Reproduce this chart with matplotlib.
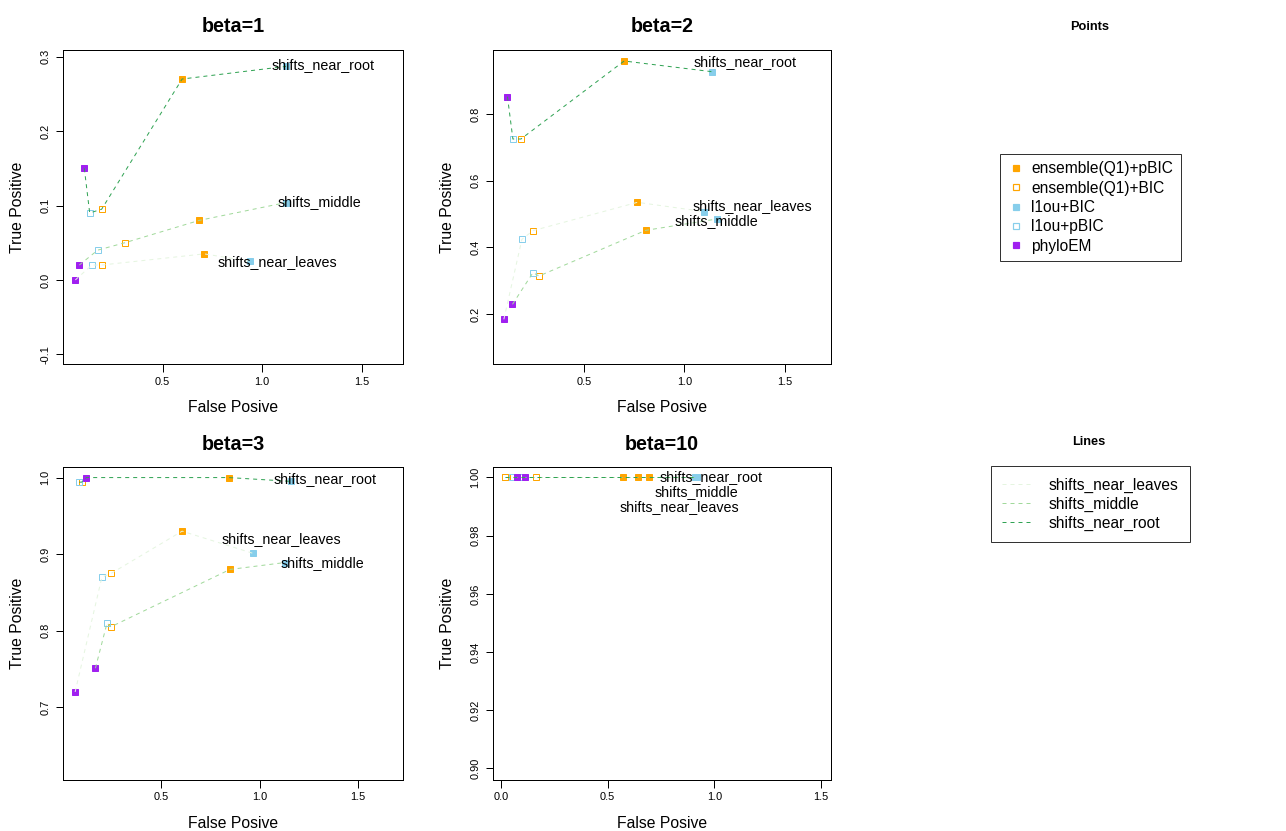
import matplotlib
matplotlib.use("Agg")
import matplotlib.pyplot as plt
from matplotlib.lines import Line2D

plt.rcParams['font.family'] = ['Liberation Sans', 'DejaVu Sans']

W, H = 1286, 831

methods = ["ensemble(Q1)+pBIC", "ensemble(Q1)+BIC", "l1ou+BIC", "l1ou+pBIC", "phyloEM"]
scenarios = ["shifts_near_leaves", "shifts_middle", "shifts_near_root"]
betas = ["beta=1", "beta=2", "beta=3", "beta=10"]

# false / true positive rates, in the order of `methods`
fp_b1_leaves = [0.709, 0.194, 0.938, 0.145, 0.062]
tp_b1_leaves = [0.035, 0.020, 0.025, 0.020, 0.000]
fp_b1_middle = [0.684, 0.311, 1.120, 0.174, 0.082]
tp_b1_middle = [0.080, 0.050, 0.104, 0.040, 0.020]
fp_b1_root = [0.598, 0.194, 1.120, 0.134, 0.107]
tp_b1_root = [0.270, 0.095, 0.287, 0.090, 0.150]

fp_b2_leaves = [0.766, 0.246, 1.100, 0.191, 0.101]
tp_b2_leaves = [0.535, 0.450, 0.507, 0.424, 0.184]
fp_b2_middle = [0.808, 0.276, 1.161, 0.246, 0.144]
tp_b2_middle = [0.451, 0.314, 0.485, 0.324, 0.229]
fp_b2_root = [0.700, 0.186, 1.136, 0.146, 0.119]
tp_b2_root = [0.959, 0.725, 0.927, 0.725, 0.852]

fp_b3_leaves = [0.607, 0.248, 0.967, 0.200, 0.064]
tp_b3_leaves = [0.930, 0.875, 0.901, 0.870, 0.720]
fp_b3_middle = [0.850, 0.245, 1.128, 0.226, 0.167]
tp_b3_middle = [0.880, 0.805, 0.889, 0.810, 0.751]
fp_b3_root = [0.844, 0.097, 1.162, 0.084, 0.121]
tp_b3_root = [1.000, 0.994, 0.995, 0.994, 1.000]

fp_b10_leaves = [0.695, 0.059, 0.920, 0.019, 0.075]
tp_b10_leaves = [1.0, 1.0, 1.0, 1.0, 1.0]
fp_b10_middle = [0.641, 0.165, 0.910, 0.100, 0.114]
tp_b10_middle = [1.0, 1.0, 1.0, 1.0, 1.0]
fp_b10_root = [0.571, 0.019, 0.914, 0.050, 0.075]
tp_b10_root = [1.0, 1.0, 1.0, 1.0, 1.0]

panels = [
    [(fp_b1_leaves, tp_b1_leaves), (fp_b1_middle, tp_b1_middle), (fp_b1_root, tp_b1_root)],
    [(fp_b2_leaves, tp_b2_leaves), (fp_b2_middle, tp_b2_middle), (fp_b2_root, tp_b2_root)],
    [(fp_b3_leaves, tp_b3_leaves), (fp_b3_middle, tp_b3_middle), (fp_b3_root, tp_b3_root)],
    [(fp_b10_leaves, tp_b10_leaves), (fp_b10_middle, tp_b10_middle), (fp_b10_root, tp_b10_root)],
]

# styles
point_color = ["#FFA500", "#FFA500", "#87CEEB", "#87CEEB", "#A020F0"]
point_filled = [True, False, True, False, True]
line_color = ["#E5F5E0", "#A1D99B", "#31A354"]
dash = (0, (4, 4))

# where the scenario names are written in each panel (data coords)
label_pos = [
    [(1.075, 0.0245), (1.289, 0.105), (1.307, 0.289)],
    [(1.339, 0.524), (1.161, 0.479), (1.300, 0.955)],
    [(1.109, 0.9196), (1.317, 0.889), (1.334, 0.9987)],
    [(0.837, 0.9898), (0.914, 0.995), (0.986, 1.0)],
]
xlims = [(0.0, 1.707), (0.047, 1.73), (0.0025, 1.728), (-0.037, 1.546)]
ylims = [(-0.113, 0.309), (0.050, 0.992), (0.605, 1.0138), (0.896, 1.0036)]
xticks = [[0.5, 1.0, 1.5], [0.5, 1.0, 1.5], [0.5, 1.0, 1.5], [0.0, 0.5, 1.0, 1.5]]
yticks = [[-0.1, 0.0, 0.1, 0.2, 0.3], [0.2, 0.4, 0.6, 0.8],
          [0.7, 0.8, 0.9, 1.0], [0.90, 0.92, 0.94, 0.96, 0.98, 1.00]]
yfmt = ["{:.1f}", "{:.1f}", "{:.1f}", "{:.2f}"]

# pixel boxes: left, top, right, bottom
boxes = [(63, 50, 403, 364), (493, 50, 831, 364), (63, 467, 403, 780), (493, 467, 831, 780)]


def px_axes(fig, l, t, r, b):
    return fig.add_axes([l / W, 1 - b / H, (r - l) / W, (b - t) / H])


def ftext(x, y, s, **kw):
    fig.text(x / W, 1 - y / H, s, ha="center", va="center", **kw)


fig = plt.figure(figsize=(W / 72, H / 72), dpi=72)

for i, (l, t, r, b) in enumerate(boxes):
    ax = px_axes(fig, l, t, r, b)
    for k, (fp, tp) in enumerate(panels[i]):
        for m in range(len(methods)):
            ax.plot(fp[m], tp[m], marker="s", linestyle="none", markersize=5.5,
                    markerfacecolor=point_color[m] if point_filled[m] else "none",
                    markeredgecolor=point_color[m], markeredgewidth=1.0, zorder=2)
        order = sorted(range(len(fp)), key=lambda j: fp[j])
        ax.plot([fp[j] for j in order], [tp[j] for j in order], color=line_color[k],
                linestyle=dash, linewidth=1, zorder=3)
        lx, ly = label_pos[i][k]
        ax.text(lx, ly, scenarios[k], fontsize=14.3, ha="center", va="center", zorder=4)
    ax.set_xlim(*xlims[i])
    ax.set_ylim(*ylims[i])
    ax.set_xticks(xticks[i])
    ax.set_xticklabels(["{:.1f}".format(v) for v in xticks[i]])
    ax.set_yticks(yticks[i])
    ax.set_yticklabels([yfmt[i].format(v) for v in yticks[i]], rotation=90, va="center")
    ax.tick_params(direction="out", length=7.5, width=1, labelsize=11, pad=5)
    for sp in ax.spines.values():
        sp.set_linewidth(1)
    cx = (l + r) / 2
    ftext(cx, t - 23, betas[i], fontsize=19.8, fontweight="bold")
    ftext(cx, b + 43, "False Posive", fontsize=15.7)
    ftext(l - 45, (t + b) / 2, "True Positive", fontsize=15.7, rotation=90)

# legends in the third column
ftext(1090, 27, "Points", fontsize=12.8, fontweight="bold")
ftext(1089, 442, "Lines", fontsize=12.8, fontweight="bold")

pt_handles = [Line2D([], [], marker="s", linestyle="none", markersize=6.5,
                     markerfacecolor=point_color[m] if point_filled[m] else "none",
                     markeredgecolor=point_color[m], markeredgewidth=1.2)
              for m in range(len(methods))]
leg1 = fig.legend(pt_handles, methods, loc="center", bbox_to_anchor=(1090.5 / W, 1 - 207.5 / H),
                  fontsize=15.5, frameon=True, fancybox=False, edgecolor="black",
                  borderpad=0.5, handlelength=1.0, handletextpad=0.46, labelspacing=0.28,
                  borderaxespad=0)
leg1.get_frame().set_linewidth(1)

ln_handles = [Line2D([], [], color=line_color[k], linestyle=dash, linewidth=1)
              for k in range(len(scenarios))]
leg2 = fig.legend(ln_handles, scenarios, loc="upper center", bbox_to_anchor=(1090.5 / W, 1 - 466 / H),
                  fontsize=15.5, frameon=True, fancybox=False, edgecolor="black",
                  borderpad=0.75, handlelength=1.94, handletextpad=1.07, labelspacing=0.25,
                  borderaxespad=0)
leg2.get_frame().set_linewidth(1)

fig.savefig("out.png", dpi=72)
